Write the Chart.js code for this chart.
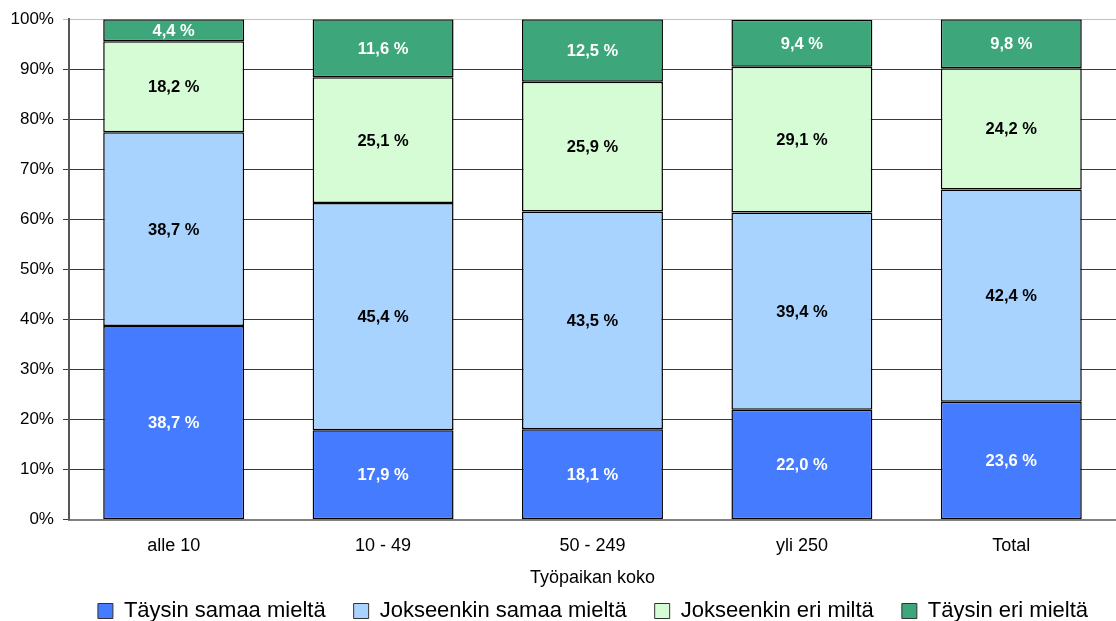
<!DOCTYPE html>
<html>
<head>
<meta charset="utf-8">
<script src="https://cdn.jsdelivr.net/npm/chart.js@4/dist/chart.umd.min.js"></script>
<style>
  html, body { margin: 0; padding: 0; background: #fff; }
  #wrap { width: 1116px; height: 621px; position: relative; }
</style>
</head>
<body>
<div id="wrap"><canvas id="c" width="1116" height="621"></canvas></div>
<script>
const categories = ['alle 10', '10 - 49', '50 - 249', 'yli 250', 'Total'];
const taysinSamaa = [38.7, 17.9, 18.1, 22.0, 23.6];
const jokseenkinSamaa = [38.7, 45.4, 43.5, 39.4, 42.4];
const jokseenkinEri = [18.2, 25.1, 25.9, 29.1, 24.2];
const taysinEri = [4.4, 11.6, 12.5, 9.4, 9.8];
const seriesNames = ['Täysin samaa mieltä', 'Jokseenkin samaa mieltä', 'Jokseenkin eri miltä', 'Täysin eri mieltä'];
const seriesColors = ['#447BFF', '#A8D3FF', '#D5FCD5', '#3DA77B'];
const labelColors = ['#ffffff', '#000000', '#000000', '#ffffff'];
const yTicks = [0, 10, 20, 30, 40, 50, 60, 70, 80, 90, 100];

const FONT = '"Liberation Sans", Arial, sans-serif';
const fmt = v => v.toFixed(1).replace('.', ',') + ' %';

// Writes each segment's value in the middle of its bar piece
const segmentLabels = {
  id: 'segmentLabels',
  afterDatasetsDraw(chart) {
    const ctx = chart.ctx;
    ctx.save();
    ctx.font = 'bold 16.5px ' + FONT;
    ctx.textAlign = 'center';
    ctx.textBaseline = 'middle';
    chart.data.datasets.forEach((ds, di) => {
      const meta = chart.getDatasetMeta(di);
      meta.data.forEach((bar, i) => {
        ctx.fillStyle = labelColors[di];
        ctx.fillText(fmt(ds.data[i]), bar.x, (bar.y + bar.base) / 2 + 1);
      });
    });
    ctx.restore();
  }
};

// Keeps the legend row close under the axis title
const legendRow = {
  id: 'legendRow',
  afterLayout(chart) {
    const lg = chart.legend;
    if (!lg) return;
    const h = lg.bottom - lg.top;
    lg.top = 572;
    lg.bottom = 572 + h;
  }
};

const datasetList = [taysinSamaa, jokseenkinSamaa, jokseenkinEri, taysinEri].map((d, i) => ({
  label: seriesNames[i],
  data: d,
  backgroundColor: seriesColors[i],
  borderColor: '#000000',
  borderWidth: 1.5,
  borderSkipped: false,
  categoryPercentage: 1.0,
  barPercentage: 0.673
}));

new Chart(document.getElementById('c'), {
  type: 'bar',
  data: { labels: categories, datasets: datasetList },
  options: {
    responsive: false,
    animation: false,
    layout: { padding: { top: 19, right: 0, left: 1.5, bottom: -30 } },
    plugins: {
      tooltip: { enabled: false },
      legend: {
        position: 'bottom',
        align: 'end',
        labels: {
          font: { family: FONT, size: 22 },
          color: '#000',
          boxWidth: 15,
          boxHeight: 15,
          padding: 28,
          generateLabels(chart) {
            return chart.data.datasets.map((ds, i) => ({
              text: ds.label,
              fillStyle: ds.backgroundColor,
              strokeStyle: '#333',
              lineWidth: 1,
              datasetIndex: i
            }));
          }
        }
      }
    },
    scales: {
      x: {
        stacked: true,
        grid: { display: false, tickLength: 8 },
        border: { color: '#808080', width: 2 },
        ticks: {
          color: '#000',
          font: { family: FONT, size: 18 },
          padding: 7
        },
        title: {
          display: true,
          text: 'Työpaikan koko',
          color: '#000',
          font: { family: FONT, size: 18 },
          padding: { top: 4, bottom: 2 }
        }
      },
      y: {
        stacked: true,
        min: 0,
        max: 100,
        afterBuildTicks(axis) { axis.ticks = yTicks.map(v => ({ value: v })); },
        grid: {
          color: ctx => ctx.tick && ctx.tick.value === 100 ? '#c0c0c0' : '#3a3a3a',
          lineWidth: 1,
          tickLength: 6,
          drawTicks: true
        },
        border: { color: '#555555', width: 2 },
        ticks: {
          color: '#000',
          font: { family: FONT, size: 17 },
          padding: 9,
          callback: v => v + '%'
        }
      }
    }
  },
  plugins: [segmentLabels, legendRow]
});
</script>
</body>
</html>
